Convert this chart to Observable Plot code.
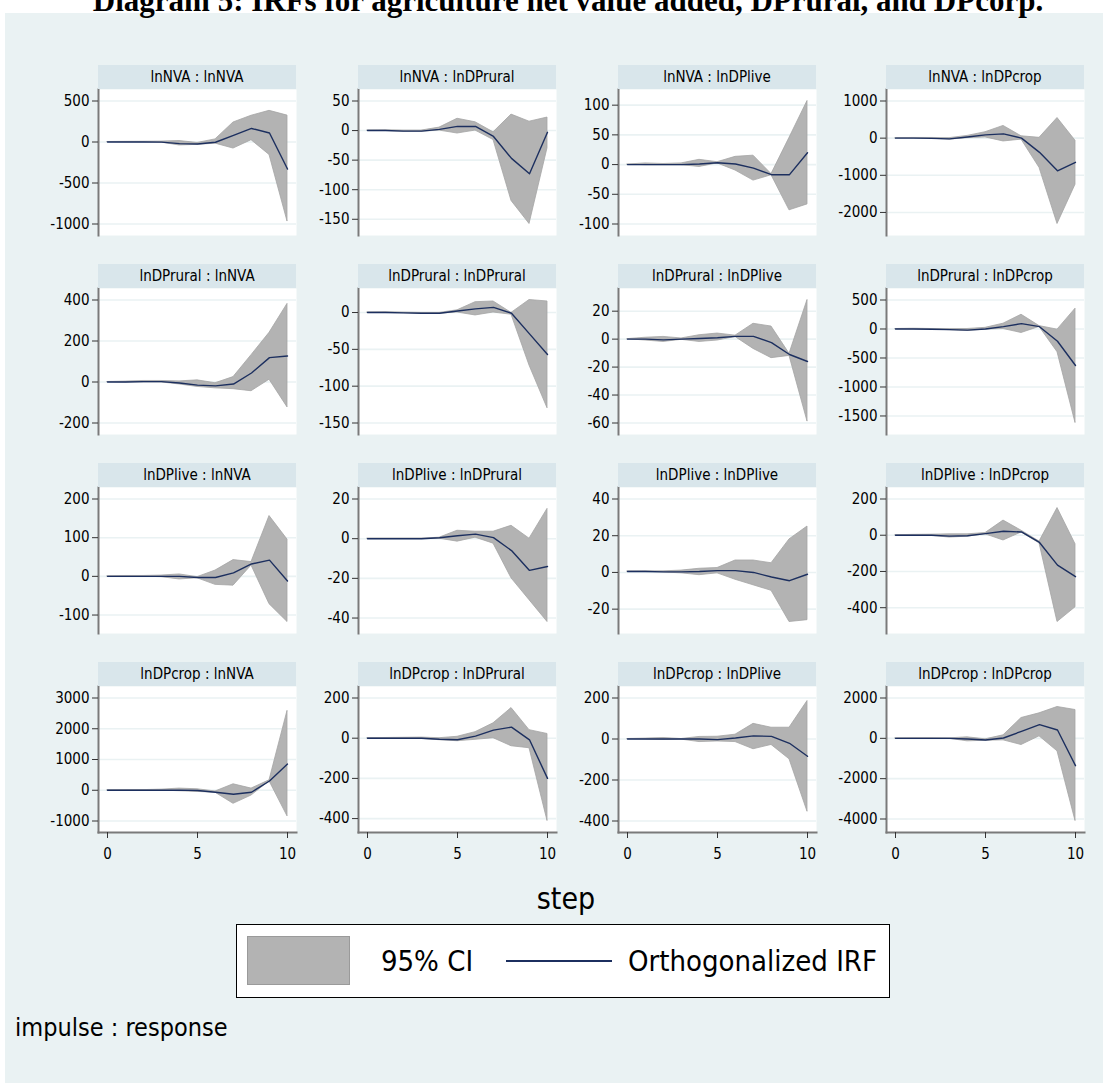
<!DOCTYPE html>
<html><head><meta charset="utf-8">
<script src="https://cdn.jsdelivr.net/npm/d3@7"></script>
<script src="https://cdn.jsdelivr.net/npm/@observablehq/plot@0.6"></script>
<style>
html,body{margin:0;padding:0;background:#fff;}
#page{position:relative;width:1108px;height:1083px;overflow:hidden;font-family:"Liberation Sans",Arial,sans-serif;}
#bg{position:absolute;left:5px;top:13px;width:1098px;height:1070px;background:#EAF2F3;}
#title{position:absolute;left:0;width:1136px;top:-15px;text-align:center;font-weight:bold;font-size:31px;font-family:"Liberation Serif","Times New Roman",serif;line-height:31px;white-space:nowrap;}
.strip{position:absolute;height:24px;background:#D9E6EB;text-align:center;font-size:15px;line-height:25px;font-family:"Liberation Sans Narrow","DejaVu Sans Condensed",sans-serif;color:#000;white-space:nowrap;}
.panel{position:absolute;}
.txt{position:absolute;white-space:nowrap;color:#000;font-family:"Liberation Sans Narrow","DejaVu Sans Condensed",sans-serif;}
#legend{position:absolute;left:236px;top:924px;width:652px;height:72px;background:#fff;border:1px solid #000;}
#legend .sw{position:absolute;left:10px;top:11px;width:101px;height:47px;background:#B3B3B3;border:1px solid #9a9a9a;}
#legend .ln{position:absolute;left:269px;top:35px;width:106px;height:0;border-top:2px solid #1c2f5f;}
</style></head>
<body><div id="page">
<div id="bg"></div>
<div id="title">Diagram 5: IRFs for agriculture net value added, DPrural, and DPcorp.</div>
</div>
<script>
// ---------- data ----------
const steps = [0, 1, 2, 3, 4, 5, 6, 7, 8, 9, 10];
const stepTicks = [0, 5, 10];
const variables = ["lnNVA", "lnDPrural", "lnDPlive", "lnDPcrop"];
const legendLabels = ["95% CI", "Orthogonalized IRF"];
const xTitle = "step";
const note = "impulse : response";

// impulse lnNVA
const nva_nva_irf = [0, 0, 0, -2, -20, -25, -3, 80, 165, 110, -330];
const nva_nva_lo  = [0, -2, -3, -8, -42, -35, -20, -80, 22, -158, -970];
const nva_nva_hi  = [0, 2, 3, 5, 12, -12, 32, 238, 320, 380, 322];
const nva_nva_ticks = [500, 0, -500, -1000];

const nva_rural_irf = [0, 0, -1, -1, 2, 7, 7, -10, -47, -73, -3];
const nva_rural_lo  = [0, -0.5, -2, -2, 0, -5, 0, -16, -119, -158, -30];
const nva_rural_hi  = [0, 0.5, 0, 0, 5, 20, 14, -3, 27, 15, 22];
const nva_rural_ticks = [50, 0, -50, -100, -150];

const nva_live_irf = [0, 0, 0, 0, 1, 3, 1, -6, -17, -17, 20];
const nva_live_lo  = [0, -1, -1, -1, -4, 2, -10, -27, -18, -77, -67];
const nva_live_hi  = [0, 2, 1, 2, 8, 4, 13, 15, -16, 45, 107];
const nva_live_ticks = [100, 50, 0, -50, -100];

const nva_crop_irf = [0, 0, -5, -20, 30, 89, 115, 0, -382, -880, -650];
const nva_crop_lo  = [0, -5, -15, -40, 0, 20, -89, -40, -800, -2311, -1253];
const nva_crop_hi  = [0, 5, 5, 0, 60, 160, 329, 50, 9, 542, -71];
const nva_crop_ticks = [1000, 0, -1000, -2000];

// impulse lnDPrural
const rural_nva_irf = [0, 0, 2, 2, -5, -15, -19, -10, 44, 119, 127];
const rural_nva_lo  = [0, -2, -2, -2, -12, -24, -31, -35, -45, 11, -124];
const rural_nva_hi  = [0, 2, 5, 5, 3, 8, -6, 24, 131, 240, 381];
const rural_nva_ticks = [400, 200, 0, -200];

const rural_rural_irf = [0, 0, -0.5, -1, -1, 2, 5, 7, -1, -29, -57];
const rural_rural_lo  = [0, -0.5, -1, -1.5, -1.5, 0, -4, 0, -3, -72, -130];
const rural_rural_hi  = [0, 0.5, 0, -0.5, -0.5, 3, 14, 15, -0.5, 17, 15];
const rural_rural_ticks = [0, -50, -100, -150];

const rural_live_irf = [0, 0, -0.5, 0, 0.5, 1, 2, 2, -2.5, -11, -16];
const rural_live_lo  = [0, -1, -2, -0.5, -2, -1, 1.5, -7, -13.6, -12, -59];
const rural_live_hi  = [0, 1, 1.6, 0.5, 2.8, 4, 2.5, 11, 9, -10.5, 28];
const rural_live_ticks = [20, 0, -20, -40, -60];

const rural_crop_irf = [0, 0, -5, -10, -20, 0, 40, 92, 40, -212, -630];
const rural_crop_lo  = [0, -5, -10, -20, -34, -10, 0, -69, 35, -400, -1621];
const rural_crop_hi  = [0, 5, 0, 0, 0, 20, 92, 246, 50, -11, 350];
const rural_crop_ticks = [500, 0, -500, -1000, -1500];

// impulse lnDPlive
const live_nva_irf = [0, 0, 0, 0, 0, -3, -3, 9, 32, 42, -12];
const live_nva_lo  = [0, -1, -1, -2, -8, -5, -22, -24, 28, -72, -118];
const live_nva_hi  = [0, 1, 1, 2, 5, -2, 15, 42, 37, 156, 95];
const live_nva_ticks = [200, 100, 0, -100];

const live_rural_irf = [0, 0, 0, 0, 0.5, 1.5, 2.3, 0.5, -6, -16, -14];
const live_rural_lo  = [0, 0, 0, 0, 0, -1.5, 0.5, -2.5, -20, -31, -42];
const live_rural_hi  = [0, 0, 0, 0, 0.5, 4, 3.5, 3.5, 6.5, 0, 15];
const live_rural_ticks = [20, 0, -20, -40];

const live_live_irf = [0.5, 0.5, 0.3, 0.3, 0.5, 1, 1, 0, -2.5, -4.5, -1];
const live_live_lo  = [0.5, 0.4, 0, -0.5, -1.5, -0.5, -4, -7, -10, -27, -26];
const live_live_hi  = [0.5, 0.6, 0.6, 1, 2, 2.4, 6.5, 6.5, 5, 18, 25];
const live_live_ticks = [40, 20, 0, -20];

const live_crop_irf = [0, 0, 0, -5, -3, 9, 22, 18, -40, -165, -229];
const live_crop_lo  = [0, -2, -3, -13, -8, 5, -29, 15, -45, -479, -398];
const live_crop_hi  = [0, 2, 3, 5, 5, 12, 81, 25, -35, 150, -50];
const live_crop_ticks = [200, 0, -200, -400];

// impulse lnDPcrop
const crop_nva_irf = [0, 0, 0, 0, 5, -10, -65, -129, -65, 301, 850];
const crop_nva_lo  = [0, -5, -5, -10, -32, -54, -80, -441, -172, 290, -849];
const crop_nva_hi  = [0, 5, 5, 20, 54, 32, -40, 194, 54, 323, 2581];
const crop_nva_ticks = [3000, 2000, 1000, 0, -1000];

const crop_rural_irf = [0, 0, 0, 0, -5, -8, 10, 40, 55, -8, -200];
const crop_rural_lo  = [0, -1, -2, -3, -10, -15, -8, 0, -40, -50, -412];
const crop_rural_hi  = [0, 1, 2, 3, 0, 7, 30, 74, 150, 40, 21];
const crop_rural_ticks = [200, 0, -200, -400];

const crop_live_irf = [0, 0, 0, 0, 0, -3, 5, 15, 13, -21, -84];
const crop_live_lo  = [0, -2, -5, -3, -15, -12, -15, -50, -29, -99, -355];
const crop_live_hi  = [0, 2, 5, 0, 10, 11, 21, 74, 55, 55, 185];
const crop_live_ticks = [200, 0, -200, -400];

const crop_crop_irf = [0, 0, 0, 0, -30, -83, 17, 347, 678, 413, -1355];
const crop_crop_lo  = [0, -10, -10, -20, -149, -120, -100, -331, 99, -645, -4099];
const crop_crop_hi  = [0, 10, 10, 0, 50, -50, 149, 1008, 1240, 1554, 1405];
const crop_crop_ticks = [2000, 0, -2000, -4000];

// ---------- assembly ----------
const grid = [
  [[nva_nva_irf, nva_nva_lo, nva_nva_hi, nva_nva_ticks], [nva_rural_irf, nva_rural_lo, nva_rural_hi, nva_rural_ticks], [nva_live_irf, nva_live_lo, nva_live_hi, nva_live_ticks], [nva_crop_irf, nva_crop_lo, nva_crop_hi, nva_crop_ticks]],
  [[rural_nva_irf, rural_nva_lo, rural_nva_hi, rural_nva_ticks], [rural_rural_irf, rural_rural_lo, rural_rural_hi, rural_rural_ticks], [rural_live_irf, rural_live_lo, rural_live_hi, rural_live_ticks], [rural_crop_irf, rural_crop_lo, rural_crop_hi, rural_crop_ticks]],
  [[live_nva_irf, live_nva_lo, live_nva_hi, live_nva_ticks], [live_rural_irf, live_rural_lo, live_rural_hi, live_rural_ticks], [live_live_irf, live_live_lo, live_live_hi, live_live_ticks], [live_crop_irf, live_crop_lo, live_crop_hi, live_crop_ticks]],
  [[crop_nva_irf, crop_nva_lo, crop_nva_hi, crop_nva_ticks], [crop_rural_irf, crop_rural_lo, crop_rural_hi, crop_rural_ticks], [crop_live_irf, crop_live_lo, crop_live_hi, crop_live_ticks], [crop_crop_irf, crop_crop_lo, crop_crop_hi, crop_crop_ticks]]
];

const NAVY = "#1c2f5f";
const FONT = '"Liberation Sans Narrow","DejaVu Sans Condensed",sans-serif';
const colX = [98, 358, 618, 886];
const rowTop = [89, 288, 487, 686];
const PW = 198, PH = 146, STRIP = 24, ML = 62;

const page = document.getElementById("page");

grid.forEach((row, r) => {
  row.forEach(([irf, lo, hi, ticks], c) => {
    const data = steps.map((s, i) => ({step: s, irf: irf[i], lo: lo[i], hi: hi[i]}));
    const dom = d3.extent([...ticks, ...lo, ...hi]);
    const last = r === 3;
    const marks = [
      Plot.frame({fill: "white", stroke: "none"}),
      Plot.gridY(ticks, {stroke: "#EAF2F3", strokeOpacity: 1, strokeWidth: 1.6}),
      Plot.areaY(data, {x: "step", y1: "lo", y2: "hi", fill: "#B3B3B3", fillOpacity: 1, stroke: "#A4A4A4", strokeWidth: 0.8}),
      Plot.lineY(data, {x: "step", y: "irf", stroke: NAVY, strokeWidth: 1.4}),
      Plot.frame({anchor: "left", stroke: "#7a7a7a", strokeWidth: 2}),
      Plot.axisY(ticks, {tickSize: 6, tickPadding: 3, tickFormat: d => String(d), stroke: "#333", fill: "#000", label: null})
    ];
    if (last) {
      marks.push(Plot.frame({anchor: "bottom", stroke: "#7a7a7a", strokeWidth: 2}));
      marks.push(Plot.axisX(stepTicks, {tickSize: 6, tickPadding: 10, tickFormat: d => String(d), stroke: "#333", fill: "#000", label: null}));
    }
    const chart = Plot.plot({
      width: ML + PW,
      height: PH + (last ? 40 : 0),
      marginLeft: ML, marginRight: 0, marginTop: 0, marginBottom: last ? 40 : 0,
      style: {background: "transparent", fontFamily: FONT, fontSize: "15px", color: "#000", overflow: "visible"},
      x: {domain: [0, 10], insetLeft: 9, insetRight: 9, axis: last ? undefined : null},
      y: {domain: dom, insetTop: 11.5, insetBottom: 11.5},
      marks
    });
    const wrap = document.createElement("div");
    wrap.className = "panel";
    wrap.style.left = (colX[c] - ML) + "px";
    wrap.style.top = rowTop[r] + "px";
    wrap.appendChild(chart);
    page.appendChild(wrap);

    const strip = document.createElement("div");
    strip.className = "strip";
    strip.style.left = colX[c] + "px";
    strip.style.width = PW + "px";
    strip.style.top = (rowTop[r] - STRIP) + "px";
    strip.textContent = variables[r] + " : " + variables[c];
    page.appendChild(strip);
  });
});

function addText(parent, t, left, top, size, extra) {
  const d = document.createElement("div");
  d.className = "txt";
  d.textContent = t;
  d.style.left = left + "px";
  d.style.top = top + "px";
  d.style.fontSize = size + "px";
  d.style.lineHeight = size + "px";
  if (extra) Object.assign(d.style, extra);
  parent.appendChild(d);
  return d;
}
// x title centered
addText(page, xTitle, 0, 884, 30, {width: "1132px", textAlign: "center"});

// legend
const leg = document.createElement("div");
leg.id = "legend";
leg.innerHTML = '<div class="sw"></div><div class="ln"></div>';
page.appendChild(leg);
addText(leg, legendLabels[0], 110, 22, 29, {width: "160px", textAlign: "center"});
addText(leg, legendLabels[1], 391, 22, 29);

addText(page, note, 15, 1015, 25);
</script>
</body></html>
